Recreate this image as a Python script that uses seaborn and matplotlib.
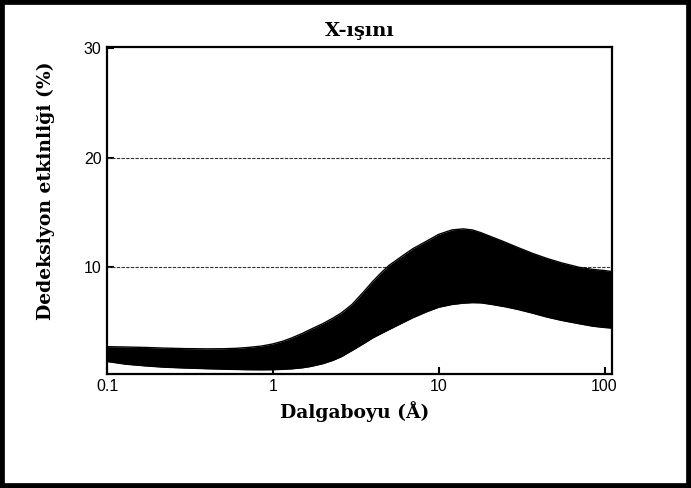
import matplotlib
matplotlib.use("Agg")
import matplotlib.pyplot as plt
import matplotlib.patches as mpatches
from matplotlib.ticker import FixedLocator, FixedFormatter, NullLocator
import pandas as pd
import seaborn as sns

# Wavelength samples (Å) and the efficiency envelope (%)
wavelength = [0.1, 0.13, 0.17, 0.22, 0.3, 0.4, 0.5, 0.6, 0.7, 0.85, 1.0, 1.15,
              1.3, 1.5, 1.7, 2.0, 2.3, 2.6, 3.0, 3.5, 4.0, 4.5, 5.0, 6.0, 7.0,
              8.5, 10, 12, 14, 16, 18, 21, 25, 30, 37, 45, 55, 70, 85, 100, 111]
upper = [2.75, 2.72, 2.68, 2.62, 2.57, 2.55, 2.56, 2.6, 2.67, 2.8, 3.0, 3.25,
         3.55, 3.95, 4.35, 4.85, 5.35, 5.85, 6.6, 7.7, 8.7, 9.5, 10.15, 11.0, 11.7,
         12.4, 13.0, 13.4, 13.5, 13.4, 13.15, 12.75, 12.3, 11.8, 11.25, 10.8,
         10.4, 10.0, 9.8, 9.7, 9.6]
lower = [1.4, 1.15, 1.0, 0.88, 0.8, 0.74, 0.7, 0.67, 0.65, 0.64, 0.65, 0.68,
         0.73, 0.82, 0.95, 1.2, 1.5, 1.85, 2.4, 3.0, 3.55, 3.95, 4.3, 4.9, 5.4,
         5.95, 6.35, 6.6, 6.72, 6.77, 6.75, 6.6, 6.4, 6.15, 5.8, 5.45, 5.15,
         4.85, 4.62, 4.5, 4.45]

x_ticks = [0.1, 1, 10, 100]
x_tick_labels = ["0.1", "1", "10", "100"]
y_ticks = [10, 20, 30]
y_tick_labels = ["10", "20", "30"]

title = "X-ışını"
x_label = "Dalgaboyu (Å)"
y_label = "Dedeksiyon etkinliği (%)"

df = pd.DataFrame({"wavelength": wavelength, "upper": upper, "lower": lower})

sns.set_style("ticks")
plt.rcParams["font.family"] = ["Liberation Sans", "DejaVu Sans"]
plt.rcParams["text.color"] = "black"
plt.rcParams["axes.labelcolor"] = "black"

fig = plt.figure(figsize=(6.91, 4.88), dpi=100)
ax = fig.add_axes([0.1549, 0.2346, 0.7308, 0.6691])

# dashed reference lines
for yv in [10, 20]:
    ax.axhline(yv, color="#333333", lw=0.8, ls=(0, (3, 1.2)), zorder=1)

# efficiency band
ax.fill_between(df["wavelength"], df["lower"], df["upper"], color="black",
                lw=0, zorder=2)
sns.lineplot(data=df, x="wavelength", y="upper", ax=ax, color="black", lw=1, zorder=3)
sns.lineplot(data=df, x="wavelength", y="lower", ax=ax, color="black", lw=1, zorder=3)

ax.set_xscale("log")
ax.set_xlim(0.1, 111)
ax.set_ylim(0.3, 30.1)

ax.xaxis.set_major_locator(FixedLocator(x_ticks))
ax.xaxis.set_major_formatter(FixedFormatter(x_tick_labels))
ax.xaxis.set_minor_locator(NullLocator())
ax.yaxis.set_major_locator(FixedLocator(y_ticks))
ax.yaxis.set_major_formatter(FixedFormatter(y_tick_labels))

ax.tick_params(axis="both", direction="in", length=5, width=1.5,
               labelsize=11.5, colors="black", pad=4)
for s in ax.spines.values():
    s.set_visible(True)
    s.set_linewidth(1.6)
    s.set_color("black")

serif = {"family": ["DejaVu Serif"], "weight": "bold", "color": "black"}
ax.set_title(title, fontdict=serif, fontsize=14, pad=8)
ax.set_xlabel(x_label, fontdict=serif, fontsize=13.5)
ax.set_ylabel(y_label, fontdict=serif, fontsize=13.5)
ax.xaxis.set_label_coords(0.49, -0.085)
ax.yaxis.set_label_coords(-0.104, 0.56)

# frame around the whole figure
fig.patches.append(mpatches.Rectangle((0, 0), 1, 1, transform=fig.transFigure,
                                      fill=False, ec="black", lw=7, zorder=10))

fig.savefig("out.png", dpi=100)
